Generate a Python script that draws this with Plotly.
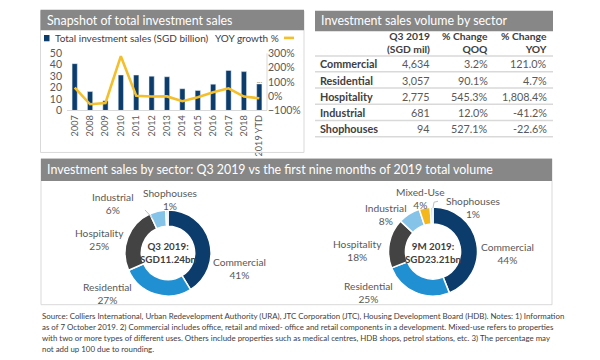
import plotly.graph_objects as go

# ---------------- data ----------------
years = ["2007", "2008", "2009", "2010", "2011", "2012", "2013", "2014", "2015", "2016", "2017", "2018", "2019 YTD"]
sales_bn = [41.0, 16.5, 8.5, 31.0, 31.0, 30.0, 29.5, 19.0, 17.5, 23.0, 35.0, 34.0, 23.2]
yoy_growth = [60, -57, -48, 280, 2, -3, -2, -35, -8, 28, 55, -3, -15]

tbl_sectors = ["Commercial", "Residential", "Hospitality", "Industrial", "Shophouses"]
tbl_q3 = ["4,634", "3,057", "2,775", "681", "94"]
tbl_qoq = ["3.2%", "90.1%", "545.3%", "12.0%", "527.1%"]
tbl_yoy = ["121.0%", "4.7%", "1,808.4%", "-41.2%", "-22.6%"]
tbl_headers = ["Q3 2019<br>(SGD mil)", "% Change<br>QOQ", "% Change<br>YOY"]

q3_labels = ["Commercial", "Residential", "Hospitality", "Industrial", "Shophouses"]
q3_values = [4634, 3057, 2775, 681, 94]
q3_pct = ["41%", "27%", "25%", "6%", "1%"]

m9_labels = ["Commercial", "Residential", "Hospitality", "Industrial", "Mixed-Use", "Shophouses"]
m9_values = [44, 25, 18, 8, 4, 1]
m9_pct = ["44%", "25%", "18%", "8%", "4%", "1%"]

footer_lines = [
    "Source: Colliers International, Urban Redevelopment Authority (URA), JTC Corporation (JTC), Housing Development Board (HDB). Notes: 1) Information",
    "as of 7 October 2019. 2) Commercial includes office, retail and mixed- office and retail components in a development. Mixed-use refers to properties",
    "with two or more types of different uses. Others include properties such as medical centres, HDB shops, petrol stations, etc. 3) The percentage may",
    "not add up 100 due to rounding.",
]

# ---------------- styles ----------------
W, H = 600, 360
FONT = "Lato"
NAVY = "#0b3c6c"
YELLOW = "#f4bf2a"
GRAY_TXT = "#595959"
DARK_TXT = "#404040"
BAR_GRAY = "#878787"
LINE_GRAY = "#d9d9d9"
sector_colors = {
    "Commercial": "#0b3c6c",
    "Residential": "#2190d2",
    "Hospitality": "#434343",
    "Industrial": "#86c3e8",
    "Shophouses": "#bfdff2",
    "Mixed-Use": "#f4b81c",
}


def px(x):
    return x / W


def py(y):
    return 1 - y / H


fig = go.Figure()

# ---------------- bar + line chart ----------------
fig.add_trace(go.Bar(
    x=years, y=sales_bn, marker_color=NAVY, xaxis="x", yaxis="y",
    text=[""] * (len(years) - 1) + [f"{sales_bn[-1]:.1f}"],
    textposition="outside", cliponaxis=False,
    textfont=dict(size=10.5, color=GRAY_TXT, family=FONT),
    showlegend=False,
))
fig.add_trace(go.Scatter(
    x=years, y=yoy_growth, mode="lines", line=dict(color=YELLOW, width=2.6),
    xaxis="x", yaxis="y2", showlegend=False,
))

# ---------------- donuts ----------------
fig.add_trace(go.Pie(
    labels=q3_labels, values=q3_values, hole=0.62, sort=False, direction="clockwise", rotation=0,
    marker=dict(colors=[sector_colors[s] for s in q3_labels], line=dict(color="white", width=1.5)),
    textinfo="none", showlegend=False,
    domain=dict(x=[px(123.5), px(212.5)], y=[py(300), py(211)]),
))
fig.add_trace(go.Pie(
    labels=m9_labels, values=m9_values, hole=0.62, sort=False, direction="clockwise", rotation=0,
    marker=dict(colors=[sector_colors[s] for s in m9_labels], line=dict(color="white", width=1.5)),
    textinfo="none", showlegend=False,
    domain=dict(x=[px(387), px(479)], y=[py(300), py(208)]),
))

shapes = []
ann = []

# panel borders
shapes.append(dict(type="rect", xref="paper", yref="paper", x0=px(40.5), x1=px(304), y0=py(151.5), y1=py(5),
                   line=dict(color=LINE_GRAY, width=1)))
shapes.append(dict(type="rect", xref="paper", yref="paper", x0=px(41), x1=px(552), y0=py(309), y1=py(158),
                   line=dict(color=LINE_GRAY, width=1)))
# title bars
for (x0, x1, y0, y1, title) in [
    (40.5, 304, 4, 25, "Snapshot of total investment sales"),
    (315, 553, 5, 26, "Investment sales volume by sector"),
    (41, 552, 158, 181, "Investment sales by sector: Q3 2019 vs the first nine months of 2019 total volume"),
]:
    shapes.append(dict(type="rect", xref="paper", yref="paper", x0=px(x0), x1=px(x1), y0=py(y1), y1=py(y0),
                       fillcolor=BAR_GRAY, line=dict(width=0)))
    ann.append(dict(x=px(x0 + 4), y=py((y0 + y1) / 2), xref="paper", yref="paper", text=title, showarrow=False,
                    xanchor="left", yanchor="middle", font=dict(family=FONT, size=12.4, color="white")))

# legend for bar chart
shapes.append(dict(type="rect", xref="paper", yref="paper", x0=px(44), x1=px(49.5), y0=py(36.5), y1=py(30),
                   fillcolor=NAVY, line=dict(width=0)))
ann.append(dict(x=px(52.5), y=py(33.5), xref="paper", yref="paper", text="Total investment sales (SGD billion)",
                showarrow=False, xanchor="left", yanchor="middle", font=dict(family=FONT, size=10, color=DARK_TXT)))
ann.append(dict(x=px(281), y=py(33.5), xref="paper", yref="paper", text="YOY growth %",
                showarrow=False, xanchor="right", yanchor="middle", font=dict(family=FONT, size=10, color=DARK_TXT)))
shapes.append(dict(type="line", xref="paper", yref="paper", x0=px(284), x1=px(294), y0=py(33), y1=py(33),
                   line=dict(color=YELLOW, width=2.6)))

# right axis line
shapes.append(dict(type="line", xref="paper", yref="paper", x0=px(267), x1=px(267), y0=py(108), y1=py(49),
                   line=dict(color=LINE_GRAY, width=1)))

# ---------------- table ----------------
col_right = [432, 490, 549]
for h, xr in zip(tbl_headers, col_right):
    ann.append(dict(x=px(xr), y=py(38), xref="paper", yref="paper", text=f"<b>{h}</b>", showarrow=False,
                    xanchor="right", yanchor="middle", align="right",
                    font=dict(family=FONT, size=10.3, color=DARK_TXT)))
row_y0 = 60
row_h = 16.8
line_ys = [51.7] + [68 + i * 16.8 for i in range(len(tbl_sectors))]
for ly in line_ys:
    shapes.append(dict(type="line", xref="paper", yref="paper", x0=px(315), x1=px(553), y0=py(ly), y1=py(ly),
                       line=dict(color=LINE_GRAY, width=1.5)))
for i, sec in enumerate(tbl_sectors):
    yy = row_y0 + i * row_h
    ann.append(dict(x=px(318), y=py(yy), xref="paper", yref="paper", text=f"<b>{sec}</b>", showarrow=False,
                    xanchor="left", yanchor="middle", font=dict(family=FONT, size=10.8, color=DARK_TXT)))
    for vals, xr in zip([tbl_q3, tbl_qoq, tbl_yoy], col_right):
        ann.append(dict(x=px(xr), y=py(yy), xref="paper", yref="paper", text=vals[i], showarrow=False,
                        xanchor="right", yanchor="middle", font=dict(family=FONT, size=10.8, color=GRAY_TXT)))

# ---------------- donut labels ----------------
q3_pos = {
    "Commercial": (239, 263), "Residential": (107, 289), "Hospitality": (99, 233),
    "Industrial": (113, 196), "Shophouses": (170, 192),
}
m9_pos = {
    "Commercial": (507, 248), "Residential": (368, 288), "Hospitality": (357, 244),
    "Industrial": (386, 207), "Mixed-Use": (420, 191), "Shophouses": (473, 200),
}
for labels, pcts, pos in [(q3_labels, q3_pct, q3_pos), (m9_labels, m9_pct, m9_pos)]:
    for lab, pct in zip(labels, pcts):
        x, y = pos[lab]
        ann.append(dict(x=px(x), y=py(y - 6.5), xref="paper", yref="paper", text=f"{lab}<br>{pct}", showarrow=False,
                        xanchor="center", yanchor="top", align="center",
                        font=dict(family=FONT, size=10.2, color=GRAY_TXT)))

# leader lines
shapes.append(dict(type="line", xref="paper", yref="paper", x0=px(145), x1=px(153), y0=py(211), y1=py(220),
                   line=dict(color="#bfbfbf", width=1)))
shapes.append(dict(type="path", xref="paper", yref="paper",
                   path=f"M {px(433)} {py(209)} L {px(434)} {py(203)} L {px(438)} {py(202)}",
                   line=dict(color="#bfbfbf", width=1)))

# center texts
ann.append(dict(x=px(168), y=py(255.5), xref="paper", yref="paper", text="<b>Q3 2019:<br>SGD11.24bn</b>",
                showarrow=False, xanchor="center", yanchor="middle", align="center",
                font=dict(family=FONT, size=9.8, color=DARK_TXT)))
ann.append(dict(x=px(433), y=py(254.5), xref="paper", yref="paper", text="<b>9M 2019:<br>SGD23.21bn</b>",
                showarrow=False, xanchor="center", yanchor="middle", align="center",
                font=dict(family=FONT, size=9.8, color=DARK_TXT)))

# ---------------- footer ----------------
for i, line in enumerate(footer_lines):
    ann.append(dict(x=px(40), y=py(321 + i * 11.4), xref="paper", yref="paper", text=line, showarrow=False,
                    xanchor="left", yanchor="middle", font=dict(family=FONT, size=7.9, color=DARK_TXT)))

fig.update_layout(
    width=W, height=H, margin=dict(l=0, r=0, t=0, b=0),
    paper_bgcolor="white", plot_bgcolor="white",
    font=dict(family=FONT, color=GRAY_TXT),
    bargap=0.66,
    xaxis=dict(domain=[px(67), px(267)], type="category", tickangle=-90, showgrid=False,
               showline=True, linecolor=LINE_GRAY, linewidth=1, ticks="",
               tickfont=dict(size=9.2, color=GRAY_TXT, family=FONT), anchor="y"),
    yaxis=dict(domain=[py(108), py(49)], range=[0, 50], dtick=10, showgrid=False, zeroline=False,
               showline=False, tickfont=dict(size=10.5, color=GRAY_TXT, family=FONT), anchor="x",
               ticklabelstandoff=4),
    yaxis2=dict(domain=[py(108), py(49)], range=[-100, 300], dtick=100, ticksuffix="%", overlaying="y",
                side="right", anchor="x", showgrid=False, zeroline=False, showline=False,
                tickfont=dict(size=10.5, color=GRAY_TXT, family=FONT)),
    shapes=shapes,
    annotations=ann,
)

fig.write_html("out.html", config={"displayModeBar": False},
               post_script="document.body.style.margin='0';document.body.style.overflow='hidden';")
